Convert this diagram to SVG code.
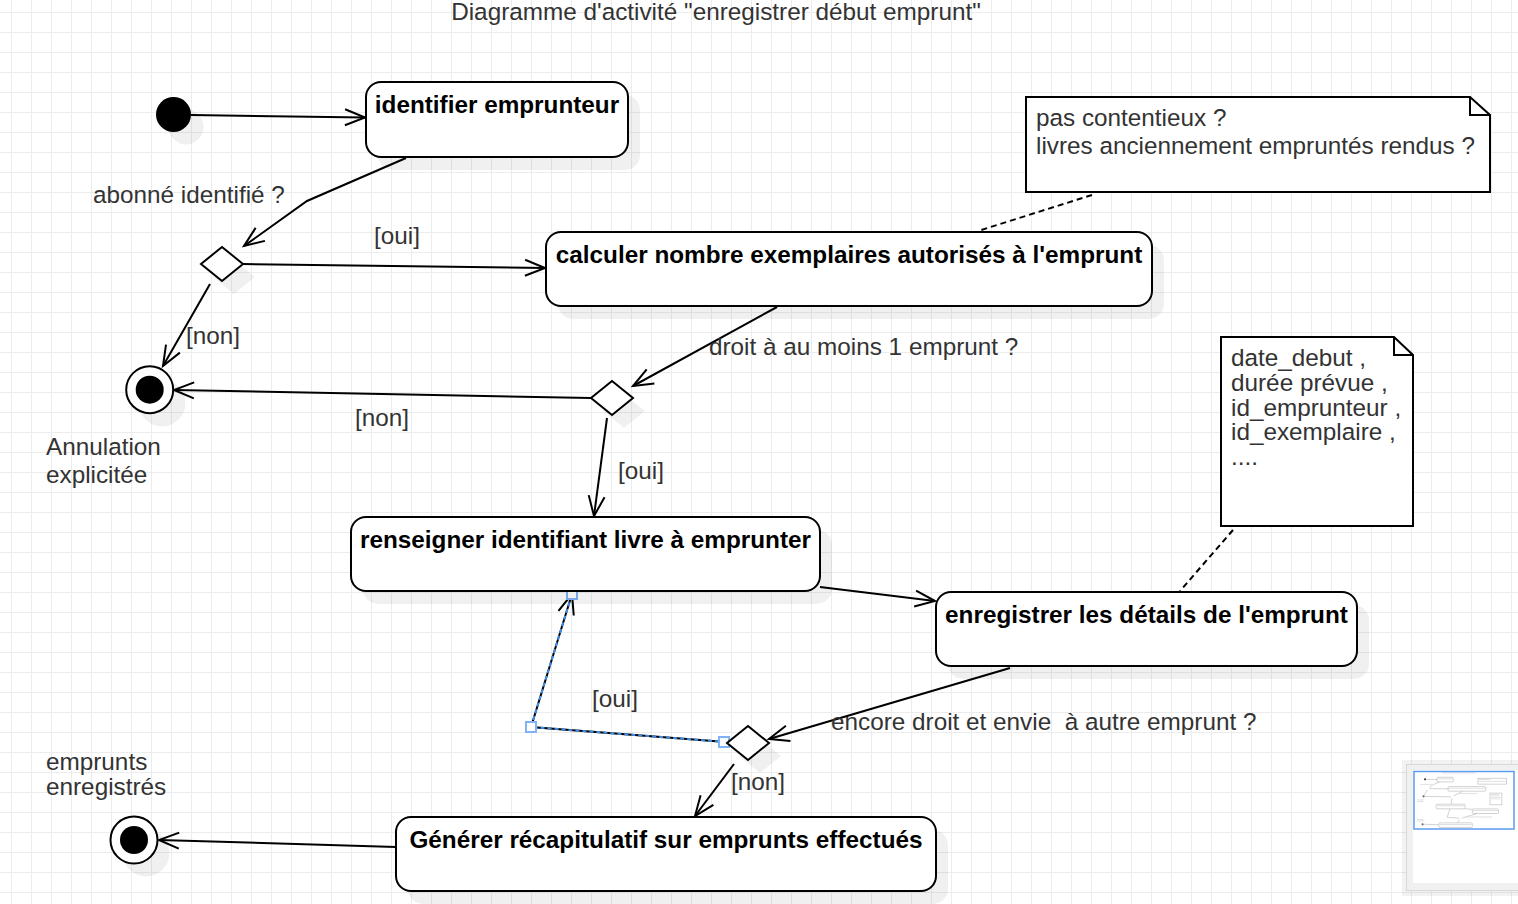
<svg xmlns="http://www.w3.org/2000/svg" width="1518" height="904" viewBox="0 0 1518 904">
<style>
.t{font-family:"Liberation Sans",Arial,Helvetica,sans-serif;font-size:24.3px;fill:#333}
.b{font-family:"Liberation Sans",Arial,Helvetica,sans-serif;font-size:24.3px;font-weight:bold;fill:#000;text-anchor:middle}
.box{fill:#fff;stroke:#000;stroke-width:2}
.sh{fill:#000;fill-opacity:0.06;stroke:none}
.edge{fill:none;stroke:#000;stroke-width:2;marker-end:url(#arr)}
.dash{fill:none;stroke:#000;stroke-width:2;stroke-dasharray:6 4}
.h{fill:#fff;stroke:#7fb2f7;stroke-width:2}
.tg{fill:none;stroke:#b8b8b8;stroke-width:10}
.tt{fill:#d6d6d6}
</style>
<defs>
<pattern id="grid" width="20" height="20" patternUnits="userSpaceOnUse" x="11" y="12">
<path d="M0,0.5 H20 M0.5,0 V20" fill="none" stroke="#ececec" stroke-width="1"/>
</pattern>
<marker id="arr" markerWidth="24" markerHeight="20" refX="21" refY="10" orient="auto" markerUnits="userSpaceOnUse" viewBox="0 0 24 20">
<path d="M1,2 L21,10 L1,18" fill="none" stroke="#000" stroke-width="2"/>
</marker>
</defs>
<rect width="1518" height="904" fill="#fff"/>
<rect width="1518" height="904" fill="url(#grid)"/>

<text class="t" x="716" y="20" text-anchor="middle">Diagramme d'activité "enregistrer début emprunt"</text>

<g id="connectors">
<path class="edge" d="M191,115 L365,117.5"/>
<path class="edge" d="M406,158 L307,201 L244,246"/>
<path class="edge" d="M243,264 L545,268"/>
<path class="edge" d="M210,284 L163,366"/>
<path class="edge" d="M777,307 L633,386"/>
<path class="edge" d="M591,398 L174,390"/>
<path class="edge" d="M607,418 L594,516"/>
<path class="edge" d="M820,587 L935,601"/>
<path class="edge" d="M1010,668 L769,739"/>
<path class="edge" d="M726,742 L531,727 L572,594"/>
<path d="M726,742 L531,727 L572,594" fill="none" stroke="#3f8ee8" stroke-width="2" stroke-dasharray="4 3"/>
<path class="edge" d="M734,764 L695,816"/>
<path class="edge" d="M396,847 L159,840"/>
<path class="dash" d="M1092,195 L978,231"/>
<path class="dash" d="M1233,530 L1180,591"/>
<rect class="h" x="567" y="589" width="10" height="10"/>
<rect class="h" x="526" y="722" width="10" height="10"/>
<rect class="h" x="719" y="737" width="10" height="10"/>
<text class="t" x="93" y="203">abonné identifié ?</text>
<text class="t" x="374" y="244">[oui]</text>
<text class="t" x="186" y="344">[non]</text>
<text class="t" x="709" y="355">droit à au moins 1 emprunt ?</text>
<text class="t" x="355" y="426">[non]</text>
<text class="t" x="618" y="479">[oui]</text>
<text class="t" x="592" y="707">[oui]</text>
<text class="t" x="831" y="730" xml:space="preserve" style="white-space:pre">encore droit et envie  à autre emprunt ?</text>
<text class="t" x="731" y="790">[non]</text>
</g>

<g id="start">
<circle class="sh" cx="186" cy="127" r="17.5"/>
<circle cx="173.5" cy="114.5" r="17.5" fill="#000"/>
</g>

<g id="identifier">
<rect class="sh" x="378" y="95" width="262" height="75" rx="15"/>
<rect class="box" x="366" y="82" width="262" height="75" rx="15"/>
<text class="b" x="497" y="113">identifier emprunteur</text>
</g>

<g id="decision1">
<path class="sh" d="M234,260 L255,277 L234,294 L213,277 Z"/>
<path class="box" d="M222,247 L243,264 L222,281 L201,264 Z"/>
</g>

<g id="calculer">
<rect class="sh" x="558" y="245" width="606" height="74" rx="15"/>
<rect class="box" x="546" y="232" width="606" height="74" rx="15"/>
<text class="b" x="849" y="263">calculer nombre exemplaires autorisés à l'emprunt</text>
</g>

<g id="end-annulation">
<circle class="sh" cx="162" cy="403" r="23.5"/>
<circle cx="149.7" cy="389.7" r="23.5" fill="#fff" stroke="#000" stroke-width="2"/>
<circle cx="149.7" cy="389.7" r="14" fill="#000"/>
<text class="t" x="46" y="455">Annulation</text>
<text class="t" x="46" y="483">explicitée</text>
</g>

<g id="decision2">
<path class="sh" d="M624,394 L645,411 L624,428 L603,411 Z"/>
<path class="box" d="M612,381 L633,398 L612,415 L591,398 Z"/>
</g>

<g id="renseigner">
<rect class="sh" x="363" y="530" width="469" height="74" rx="15"/>
<rect class="box" x="351" y="517" width="469" height="74" rx="15"/>
<text class="b" x="585.5" y="548">renseigner identifiant livre à emprunter</text>
</g>

<g id="enregistrer">
<rect class="sh" x="948" y="605" width="421" height="74" rx="15"/>
<rect class="box" x="936" y="592" width="421" height="74" rx="15"/>
<text class="b" x="1146.5" y="623">enregistrer les détails de l'emprunt</text>
</g>

<g id="decision3">
<path class="sh" d="M760,739 L781,756 L760,773 L739,756 Z"/>
<path class="box" d="M748,726 L769,743 L748,760 L727,743 Z"/>
</g>

<g id="generer">
<rect class="sh" x="408" y="830" width="540" height="74" rx="15"/>
<rect class="box" x="396" y="817" width="540" height="74" rx="15"/>
<text class="b" x="666" y="848">Générer récapitulatif sur emprunts effectués</text>
</g>

<g id="end-emprunts">
<circle class="sh" cx="146" cy="853" r="23.5"/>
<circle cx="134" cy="840" r="23.5" fill="#fff" stroke="#000" stroke-width="2"/>
<circle cx="134" cy="840" r="14" fill="#000"/>
<text class="t" x="46" y="770">emprunts</text>
<text class="t" x="46" y="795">enregistrés</text>
</g>

<g id="note1">
<path d="M1026,97 H1470 L1490,115 V192 H1026 Z" fill="#fff" stroke="#000" stroke-width="2"/>
<path d="M1470,97 V115 H1490" fill="none" stroke="#000" stroke-width="2"/>
<text class="t" x="1036" y="126">pas contentieux ?</text>
<text class="t" x="1036" y="154">livres anciennement empruntés rendus ?</text>
</g>

<g id="note2">
<path d="M1221,337 H1394 L1413,355 V526 H1221 Z" fill="#fff" stroke="#000" stroke-width="2"/>
<path d="M1394,337 V355 H1413" fill="none" stroke="#000" stroke-width="2"/>
<text class="t" x="1231" y="366">date_debut ,</text>
<text class="t" x="1231" y="391">durée prévue ,</text>
<text class="t" x="1231" y="416">id_emprunteur ,</text>
<text class="t" x="1231" y="440">id_exemplaire ,</text>
<text class="t" x="1231" y="465">....</text>
</g>

<g id="minimap">
<rect x="1402" y="760" width="130" height="136" fill="#000" fill-opacity="0.05"/>
<rect x="1406.5" y="764.5" width="125" height="126" fill="#f0f0f0" stroke="#d8d8d8" stroke-width="1"/>
<rect x="1413" y="770" width="118" height="113" fill="#fff"/>
<g transform="translate(1414.3,772.2) scale(0.062)">
<rect class="tt" x="451" y="6" width="531" height="12"/>
<circle cx="173.5" cy="114.5" r="17.5" fill="#333"/>
<rect class="tg" x="366" y="82" width="262" height="75" rx="15"/>
<rect class="tg" x="546" y="232" width="606" height="74" rx="15"/>
<rect class="tg" x="351" y="517" width="469" height="74" rx="15"/>
<rect class="tg" x="936" y="592" width="421" height="74" rx="15"/>
<rect class="tg" x="396" y="817" width="540" height="74" rx="15"/>
<rect class="tg" x="1026" y="97" width="464" height="95"/>
<rect class="tg" x="1221" y="337" width="192" height="189"/>
<circle cx="149.7" cy="389.7" r="18" fill="#666"/>
<circle cx="134" cy="840" r="18" fill="#666"/>
<path class="tg" d="M191,115 L366,118 M406,158 L307,201 L244,246 M243,264 L546,268 M210,284 L163,366 M777,307 L633,386 M591,398 L174,390 M607,418 L594,516 M820,587 L936,601 M1010,668 L769,739 M726,742 L531,727 L572,594 M734,764 L695,816 M396,847 L159,840"/>
<rect class="tt" x="375" y="102" width="244" height="12"/>
<rect class="tt" x="555" y="252" width="588" height="12"/>
<rect class="tt" x="360" y="537" width="452" height="12"/>
<rect class="tt" x="945" y="612" width="404" height="12"/>
<rect class="tt" x="409" y="837" width="514" height="12"/>
<rect class="tt" x="1036" y="112" width="190" height="12"/>
<rect class="tt" x="1036" y="140" width="440" height="12"/>
<rect class="tt" x="1231" y="352" width="135" height="10"/>
<rect class="tt" x="1231" y="377" width="150" height="10"/>
<rect class="tt" x="1231" y="402" width="165" height="10"/>
<rect class="tt" x="1231" y="426" width="160" height="10"/>
<rect class="tt" x="93" y="189" width="192" height="12"/>
<rect class="tt" x="709" y="341" width="309" height="12"/>
<rect class="tt" x="831" y="716" width="426" height="12"/>
<rect class="tt" x="46" y="441" width="114" height="12"/>
<rect class="tt" x="46" y="469" width="100" height="12"/>
<rect class="tt" x="46" y="756" width="100" height="12"/>
<rect class="tt" x="46" y="781" width="120" height="12"/>
</g>
<rect x="1414" y="771.5" width="100" height="57.5" fill="none" stroke="#5b9bf0" stroke-width="1.5"/>
</g>
</svg>
